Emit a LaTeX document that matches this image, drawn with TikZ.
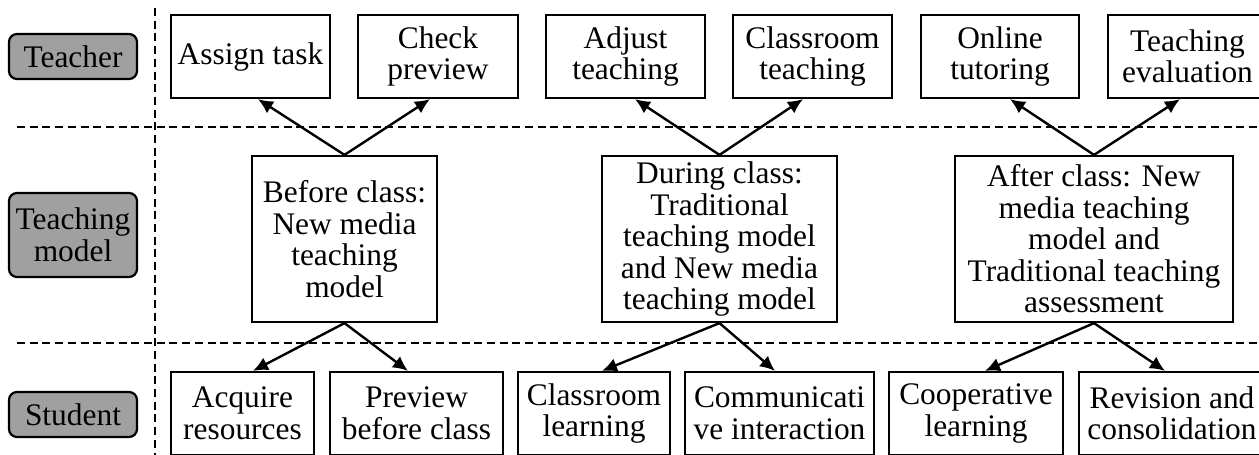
\documentclass[tikz,border=0pt]{standalone}
\usepackage{fontspec}
\setmainfont{Liberation Serif}
\usetikzlibrary{arrows.meta,calc}
\definecolor{rolegray}{RGB}{160,160,160}
\newcommand\diagfont{\fontsize{15.7}{15.75}\selectfont}
\begin{document}
\begin{tikzpicture}[x=0.5pt,y=-0.5pt,
  role/.style={draw, line width=1.1pt, fill=rolegray, rounded corners=4pt,
    minimum width=64pt, inner sep=0pt, align=center, font=\diagfont},
  task/.style={draw, line width=1.1pt, fill=white, minimum height=41.5pt,
    inner sep=0pt, align=center, font=\diagfont},
  phase/.style={draw, line width=1.1pt, fill=white, minimum height=83pt,
    inner sep=0pt, align=center, font=\diagfont},
  sep/.style={line width=1.1pt, dash pattern=on 4pt off 2.35pt},
  flow/.style={line width=1.2pt, -{Latex[length=7.5pt,width=7pt]}}
]
\useasboundingbox (0,0) rectangle (1259,455);
\clip (0,0) rectangle (1259,455);
\fill[white] (0,0) rectangle (1259,455);

% lane separators
\draw[sep] (17,127) -- (1259,127);
\draw[sep] (17,343) -- (1259,343);
\draw[sep] (155,8) -- (155,455);

% lane labels
\node[role, minimum height=22.5pt] (lteacher) at (73,56.5) {Teacher};
\node[role, minimum height=42pt] (lmodel) at (73,235) {Teaching\\model};
\node[role, minimum height=22.5pt] (lstudent) at (73,414.5) {Student};

% teacher activities
\node[task, minimum width=79.5pt] (assign) at (250.5,56.5) {Assign task};
\node[task, minimum width=80pt] (check) at (438,56.5) {Check\\preview};
\node[task, minimum width=79.5pt] (adjust) at (625.5,56.5) {Adjust\\teaching};
\node[task, minimum width=79.5pt] (cteach) at (812.5,56.5) {Classroom\\teaching};
\node[task, minimum width=79pt] (online) at (1000,56.5) {Online\\tutoring};
\node[task, minimum width=79.5pt] (evalu) at (1187.5,56.5) {Teaching\\evaluation};

% teaching model phases
\node[phase, minimum width=92.5pt] (before) at (344.5,239)
  {Before class:\\New media\\teaching\\model};
\node[phase, minimum width=117.5pt] (during) at (719.5,239)
  {During class:\\Traditional\\teaching model\\and New media\\teaching model};
\node[phase, minimum width=139pt] (after) at (1094,239)
  {After class: New\\media teaching\\model and\\Traditional teaching\\assessment};

% student activities
\node[task, minimum width=71.5pt] (acquire) at (242.5,413.5) {Acquire\\resources};
\node[task, minimum width=86.5pt] (preview) at (416.5,413.5) {Preview\\before class};
\node[task, minimum width=76pt] (clearn) at (594,413.5) {Classroom\\learning};
\node[task, minimum width=94.5pt] (commu) at (779.5,413.5) {Communicati\\ve interaction};
\node[task, minimum width=87pt] (coop) at (976,413.5) {Cooperative\\learning};
\node[task, minimum width=93pt] (revis) at (1172,413.5) {Revision and\\consolidation};

% phase -> teacher
\draw[flow] (before.north) -- ($(assign.south)+(7.5,0)$);
\draw[flow] (before.north) -- ($(check.south)+(-8,0)$);
\draw[flow] (during.north) -- ($(adjust.south)+(9.5,0)$);
\draw[flow] (during.north) -- ($(cteach.south)+(-9.5,0)$);
\draw[flow] (after.north) -- ($(online.south)+(10,0)$);
\draw[flow] (after.north) -- ($(evalu.south)+(-7.5,0)$);

% phase -> student
\draw[flow] (before.south) -- ($(acquire.north)+(10.5,0)$);
\draw[flow] (before.south) -- ($(preview.north)+(-8.5,0)$);
\draw[flow] (during.south) -- ($(clearn.north)+(8,0)$);
\draw[flow] (during.south) -- ($(commu.north)+(-4.5,0)$);
\draw[flow] (after.south) -- ($(coop.north)+(9,0)$);
\draw[flow] (after.south) -- ($(revis.north)+(-7,0)$);
\end{tikzpicture}
\end{document}
